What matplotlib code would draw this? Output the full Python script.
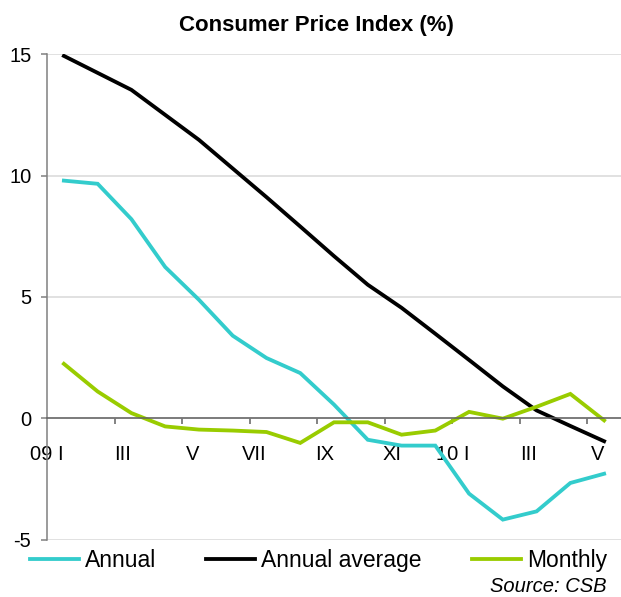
import numpy as np
import matplotlib
matplotlib.use("Agg")
import matplotlib.pyplot as plt
from matplotlib.ticker import FixedLocator

plt.rcParams['font.family'] = ['Liberation Sans', 'DejaVu Sans']
plt.rcParams['axes.unicode_minus'] = False

# Jan 2009 .. May 2010
month_labels = ["09 I", "", "III", "", "V", "", "VII", "", "IX", "", "XI", "",
                "10 I", "", "III", "", "V"]
annual = [9.79, 9.66, 8.20, 6.23, 4.88, 3.40, 2.48, 1.86, 0.56, -0.89, -1.13, -1.13,
          -3.11, -4.18, -3.84, -2.67, -2.29]
annual_avg = [14.93, 14.23, 13.53, 12.50, 11.47, 10.29, 9.11, 7.90, 6.68, 5.50, 4.55, 3.48,
              2.40, 1.31, 0.32, -0.32, -0.95]
monthly = [2.24, 1.10, 0.21, -0.34, -0.47, -0.51, -0.57, -1.02, -0.17, -0.17, -0.68, -0.51,
           0.26, -0.02, 0.47, 1.00, -0.09]

series = [("Annual", annual, "#33CCCC"),
          ("Annual average", annual_avg, "#000000"),
          ("Monthly", monthly, "#99CC00")]

fig = plt.figure(figsize=(6.21, 5.97), dpi=100)
ax = fig.add_axes([0.0757, 0.0963, 0.9243, 0.8129])

x = np.arange(len(month_labels))
for name, vals, col in series:
    ax.plot(x, vals, color=col, linewidth=2.75, label=name, solid_joinstyle='miter')

ax.set_xlim(-0.5, len(month_labels) - 0.5)
ax.set_ylim(-5, 15)
ax.set_yticks([-5, 0, 5, 10, 15])
ax.yaxis.grid(True, color='#d9d9d9', linewidth=1.1)
ax.set_axisbelow(True)

for s in ['top', 'right']:
    ax.spines[s].set_visible(False)
ax.spines['left'].set_color('#808080')
ax.spines['left'].set_linewidth(1.1)
ax.spines['bottom'].set_position(('data', 0))
ax.spines['bottom'].set_color('#606060')
ax.spines['bottom'].set_linewidth(1.1)

ax.set_xticks(x)
ax.set_xticklabels(month_labels, ha='right')
ax.xaxis.set_minor_locator(FixedLocator(np.arange(1.5, len(month_labels) - 1, 2)))
ax.tick_params(axis='x', which='major', length=0, pad=19, labelsize=14.5)
ax.tick_params(axis='x', which='minor', length=4.3, direction='out', color='#606060', width=1.1)
ax.tick_params(axis='y', length=4.3, width=1.1, color='#808080', pad=7, labelsize=14.5)

fig.text(0.51, 1 - 30.7 / 597, "Consumer Price Index (%)", ha='center', va='baseline',
         fontsize=16, fontweight='bold')

fig.legend(loc='center left', bbox_to_anchor=(30 / 621, 1 - 560.7 / 597), ncol=3,
           frameon=False, fontsize=16.5, borderpad=0, borderaxespad=0,
           handlelength=2.14, handletextpad=0.26, columnspacing=2.18)

fig.text(0.976, 1 - 592 / 597, "Source: CSB", ha='right', va='baseline',
         fontsize=14.5, style='italic')

fig.savefig("out.png", dpi=100)
